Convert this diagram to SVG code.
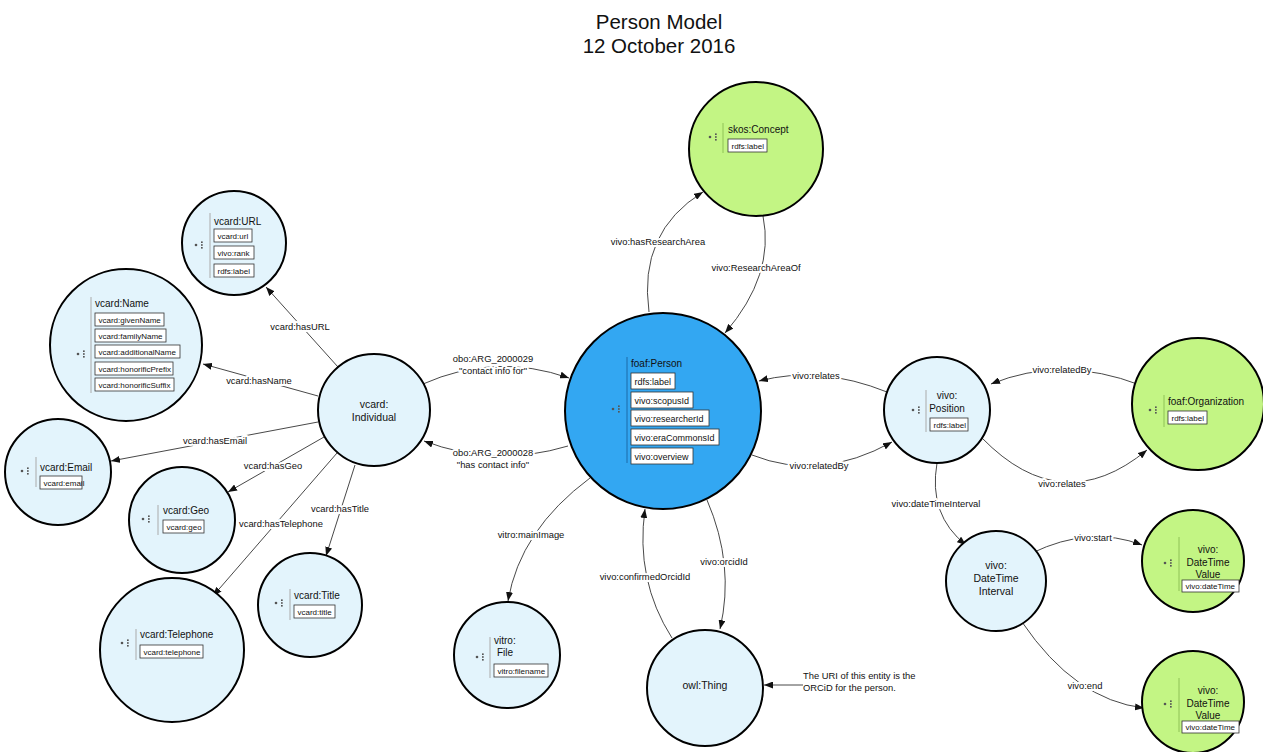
<svg xmlns="http://www.w3.org/2000/svg" xmlns:xlink="http://www.w3.org/1999/xlink" width="1263" height="752" viewBox="0 0 1263 752">
<style>
text{font-family:"Liberation Sans",Arial,sans-serif;fill:#111}
.lb{fill:#e3f4fc;stroke:#000;stroke-width:2}
.gr{fill:#c3f584;stroke:#000;stroke-width:2}
.bl{fill:#33a7f2;stroke:#000;stroke-width:2}
.sl{stroke:#aaa;stroke-width:1}
.sg{stroke:#8fc256;stroke-width:1}
.sb{stroke:#1c6aa8;stroke-width:1}
.nt{font-size:10px}
.nc{font-size:10.5px;text-anchor:middle}
.bx{fill:#fff;stroke:#333;stroke-width:0.8}
.bt{font-size:8px}
.pt{font-size:9px}
.e{fill:none;stroke:#333;stroke-width:0.9;marker-end:url(#a)}
.el{font-size:9.4px;text-anchor:middle;stroke:#fff;stroke-width:4;stroke-linejoin:round;paint-order:stroke}
.tt{font-size:20.5px;text-anchor:middle}
</style>
<defs>
<marker id="a" markerUnits="userSpaceOnUse" markerWidth="9" markerHeight="7" refX="9" refY="3.5" orient="auto"><path d="M0,0 L9,3.5 L0,7 Z" fill="#111"/></marker>
<g id="ic" fill="#555"><circle cx="0" cy="0" r="1.3"/><rect x="5" y="-3.6" width="1.7" height="1.6"/><rect x="5" y="-0.8" width="1.7" height="1.6"/><rect x="5" y="2" width="1.7" height="1.6"/></g>
</defs>
<rect width="1263" height="752" fill="#fff"/>
<text class="tt" x="659" y="29">Person Model</text>
<text class="tt" x="659" y="53">12 October 2016</text>

<g id="connectors">
<path class="e" d="M338,367 L266,287"/>
<text class="el" x="300" y="330">vcard:hasURL</text>
<path class="e" d="M318,396 L203,364"/>
<text class="el" x="259" y="384">vcard:hasName</text>
<path class="e" d="M318,422 L111,461"/>
<text class="el" x="215" y="444">vcard:hasEmail</text>
<path class="e" d="M324,437 L228,492"/>
<text class="el" x="273" y="469">vcard:hasGeo</text>
<path class="e" d="M337,453 L213,596"/>
<text class="el" x="281" y="527">vcard:hasTelephone</text>
<path class="e" d="M355,465 L326,556"/>
<text class="el" x="340" y="512">vcard:hasTitle</text>
<path class="e" d="M423,384 Q495,352 569,378"/>
<text class="el" x="493" y="362">obo:ARG_2000029</text>
<text class="el" x="493" y="374">"contact info for"</text>
<path class="e" d="M568,446 Q495,468 424,441"/>
<text class="el" x="493" y="456">obo:ARG_2000028</text>
<text class="el" x="493" y="468">"has contact info"</text>
<path class="e" d="M649,312 Q638,232 703,192"/>
<text class="el" x="658" y="245">vivo:hasResearchArea</text>
<path class="e" d="M763,216 Q775,275 725,333"/>
<text class="el" x="756" y="271">vivo:ResearchAreaOf</text>
<path class="e" d="M887,392 Q820,365 759,381"/>
<text class="el" x="816" y="379">vivo:relates</text>
<path class="e" d="M752,455 Q820,482 892,442"/>
<text class="el" x="819" y="469">vivo:relatedBy</text>
<path class="e" d="M1140,385 Q1062,355 991,384"/>
<text class="el" x="1062" y="373">vivo:relatedBy</text>
<path class="e" d="M982,438 Q1062,520 1147,450"/>
<text class="el" x="1062" y="487">vivo:relates</text>
<path class="e" d="M937,463 Q928,515 966,545"/>
<text class="el" x="936" y="507">vivo:dateTimeInterval</text>
<path class="e" d="M1032,553 Q1090,525 1142,545"/>
<text class="el" x="1093" y="541">vivo:start</text>
<path class="e" d="M1022,622 Q1075,700 1144,708"/>
<text class="el" x="1085" y="689">vivo:end</text>
<path class="e" d="M590,478 Q520,530 508,601"/>
<text class="el" x="531" y="538">vitro:mainImage</text>
<path class="e" d="M672,638 Q635,580 645,509"/>
<text class="el" x="645" y="580">vivo:confirmedOrcidId</text>
<path class="e" d="M707,500 Q735,565 720,629"/>
<text class="el" x="724" y="565">vivo:orcidId</text>
<path class="e" d="M803,685 L764,685"/>
</g>

<g id="note">
<text x="803" y="679" style="font-size:9.4px">The URI of this entity is the</text>
<text x="803" y="691" style="font-size:9.4px">ORCiD for the person.</text>
</g>

<g id="foaf-person">
<circle class="bl" cx="663" cy="411" r="98"/>
<use xlink:href="#ic" x="613" y="409"/>
<line class="sb" x1="627" y1="357" x2="627" y2="463"/>
<text class="nt" x="631" y="367">foaf:Person</text>
<rect class="bx" x="631" y="373" width="44" height="16"/><text class="pt" x="634.5" y="384.5">rdfs:label</text>
<rect class="bx" x="631" y="392" width="62" height="16"/><text class="pt" x="634.5" y="403.5">vivo:scopusId</text>
<rect class="bx" x="631" y="410" width="78" height="16"/><text class="pt" x="634.5" y="421.5">vivo:researcherId</text>
<rect class="bx" x="631" y="429" width="88" height="16"/><text class="pt" x="634.5" y="440.5">vivo:eraCommonsId</text>
<rect class="bx" x="631" y="448" width="62" height="16"/><text class="pt" x="634.5" y="459.5">vivo:overview</text>
</g>

<g id="skos-concept">
<circle class="gr" cx="756" cy="149" r="67"/>
<use xlink:href="#ic" x="710" y="137"/>
<line class="sg" x1="723" y1="123" x2="723" y2="153"/>
<text class="nt" x="728" y="133">skos:Concept</text>
<rect class="bx" x="728" y="139" width="39" height="13"/><text class="bt" x="731.5" y="148.5">rdfs:label</text>
</g>

<g id="vcard-individual">
<circle class="lb" cx="374" cy="410" r="56"/>
<text class="nc" x="374" y="408">vcard:</text>
<text class="nc" x="374" y="421">Individual</text>
</g>

<g id="vcard-url">
<circle class="lb" cx="234" cy="243" r="52"/>
<use xlink:href="#ic" x="196" y="245"/>
<line class="sl" x1="210" y1="213" x2="210" y2="278"/>
<text class="nt" x="214" y="225">vcard:URL</text>
<rect class="bx" x="214" y="229" width="38" height="13"/><text class="bt" x="217.5" y="238.5">vcard:url</text>
<rect class="bx" x="214" y="246" width="40" height="13"/><text class="bt" x="217.5" y="255.5">vivo:rank</text>
<rect class="bx" x="214" y="264" width="40" height="13"/><text class="bt" x="217.5" y="273.5">rdfs:label</text>
</g>

<g id="vcard-name">
<circle class="lb" cx="126" cy="345" r="76"/>
<use xlink:href="#ic" x="78" y="354"/>
<line class="sl" x1="91" y1="297" x2="91" y2="393"/>
<text class="nt" x="95" y="307">vcard:Name</text>
<rect class="bx" x="95" y="313" width="69" height="13"/><text class="bt" x="98.5" y="322.5">vcard:givenName</text>
<rect class="bx" x="95" y="329" width="71" height="13"/><text class="bt" x="98.5" y="338.5">vcard:familyName</text>
<rect class="bx" x="95" y="345" width="85" height="13"/><text class="bt" x="98.5" y="354.5">vcard:additionalName</text>
<rect class="bx" x="95" y="362" width="78" height="13"/><text class="bt" x="98.5" y="371.5">vcard:honorificPrefix</text>
<rect class="bx" x="95" y="378" width="79" height="13"/><text class="bt" x="98.5" y="387.5">vcard:honorificSuffix</text>
</g>

<g id="vcard-email">
<circle class="lb" cx="58" cy="472" r="53"/>
<use xlink:href="#ic" x="22" y="471"/>
<line class="sl" x1="36" y1="457" x2="36" y2="487"/>
<text class="nt" x="40" y="471">vcard:Email</text>
<rect class="bx" x="40" y="476" width="42" height="13"/><text class="bt" x="43.5" y="485.5">vcard:email</text>
</g>

<g id="vcard-geo">
<circle class="lb" cx="182" cy="520" r="53"/>
<use xlink:href="#ic" x="143" y="519"/>
<line class="sl" x1="158" y1="505" x2="158" y2="535"/>
<text class="nt" x="163" y="514">vcard:Geo</text>
<rect class="bx" x="163" y="520" width="41" height="13"/><text class="bt" x="166.5" y="529.5">vcard:geo</text>
</g>

<g id="vcard-title">
<circle class="lb" cx="310" cy="605" r="52"/>
<use xlink:href="#ic" x="276" y="603"/>
<line class="sl" x1="290" y1="589" x2="290" y2="620"/>
<text class="nt" x="294" y="599">vcard:Title</text>
<rect class="bx" x="294" y="605" width="41" height="13"/><text class="bt" x="297.5" y="614.5">vcard:title</text>
</g>

<g id="vcard-telephone">
<circle class="lb" cx="172" cy="650" r="72"/>
<use xlink:href="#ic" x="122" y="643"/>
<line class="sl" x1="136" y1="629" x2="136" y2="660"/>
<text class="nt" x="140" y="638">vcard:Telephone</text>
<rect class="bx" x="140" y="645" width="63" height="13"/><text class="bt" x="143.5" y="654.5">vcard:telephone</text>
</g>

<g id="vitro-file">
<circle class="lb" cx="507" cy="655" r="53"/>
<use xlink:href="#ic" x="477" y="657"/>
<line class="sl" x1="490" y1="637" x2="490" y2="678"/>
<text class="nt" x="494" y="644">vitro:</text>
<text class="nt" x="497" y="656">File</text>
<rect class="bx" x="494" y="664" width="54" height="13"/><text class="bt" x="497.5" y="673.5">vitro:filename</text>
</g>

<g id="owl-thing">
<circle class="lb" cx="705" cy="688" r="58"/>
<text class="nc" x="705" y="689">owl:Thing</text>
</g>

<g id="vivo-position">
<circle class="lb" cx="937" cy="410" r="53"/>
<use xlink:href="#ic" x="913" y="410"/>
<line class="sl" x1="926" y1="390" x2="926" y2="432"/>
<text class="nt" x="947" y="399" text-anchor="middle">vivo:</text>
<text class="nt" x="947" y="412" text-anchor="middle">Position</text>
<rect class="bx" x="930" y="418" width="38" height="13"/><text class="bt" x="933.5" y="427.5">rdfs:label</text>
</g>

<g id="foaf-organization">
<circle class="gr" cx="1198" cy="404" r="66"/>
<use xlink:href="#ic" x="1150" y="410"/>
<line class="sg" x1="1164" y1="395" x2="1164" y2="427"/>
<text class="nt" x="1168" y="405">foaf:Organization</text>
<rect class="bx" x="1168" y="411" width="39" height="13"/><text class="bt" x="1171.5" y="420.5">rdfs:label</text>
</g>

<g id="vivo-datetimeinterval">
<circle class="lb" cx="996" cy="581" r="50"/>
<text class="nc" x="996" y="569">vivo:</text>
<text class="nc" x="996" y="582">DateTime</text>
<text class="nc" x="996" y="595">Interval</text>
</g>

<g id="vivo-datetimevalue-start">
<circle class="gr" cx="1193" cy="561" r="51"/>
<use xlink:href="#ic" x="1165" y="563"/>
<line class="sg" x1="1179" y1="537" x2="1179" y2="591"/>
<text class="nt" x="1208" y="553" text-anchor="middle">vivo:</text>
<text class="nt" x="1208" y="565.5" text-anchor="middle">DateTime</text>
<text class="nt" x="1208" y="578" text-anchor="middle">Value</text>
<rect class="bx" x="1182" y="580" width="57" height="12"/><text class="bt" x="1185.5" y="589">vivo:dateTime</text>
</g>

<g id="vivo-datetimevalue-end">
<circle class="gr" cx="1193" cy="702" r="51"/>
<use xlink:href="#ic" x="1165" y="704"/>
<line class="sg" x1="1179" y1="678" x2="1179" y2="732"/>
<text class="nt" x="1208" y="694" text-anchor="middle">vivo:</text>
<text class="nt" x="1208" y="706.5" text-anchor="middle">DateTime</text>
<text class="nt" x="1208" y="719" text-anchor="middle">Value</text>
<rect class="bx" x="1182" y="721" width="57" height="12"/><text class="bt" x="1185.5" y="730">vivo:dateTime</text>
</g>
</svg>
